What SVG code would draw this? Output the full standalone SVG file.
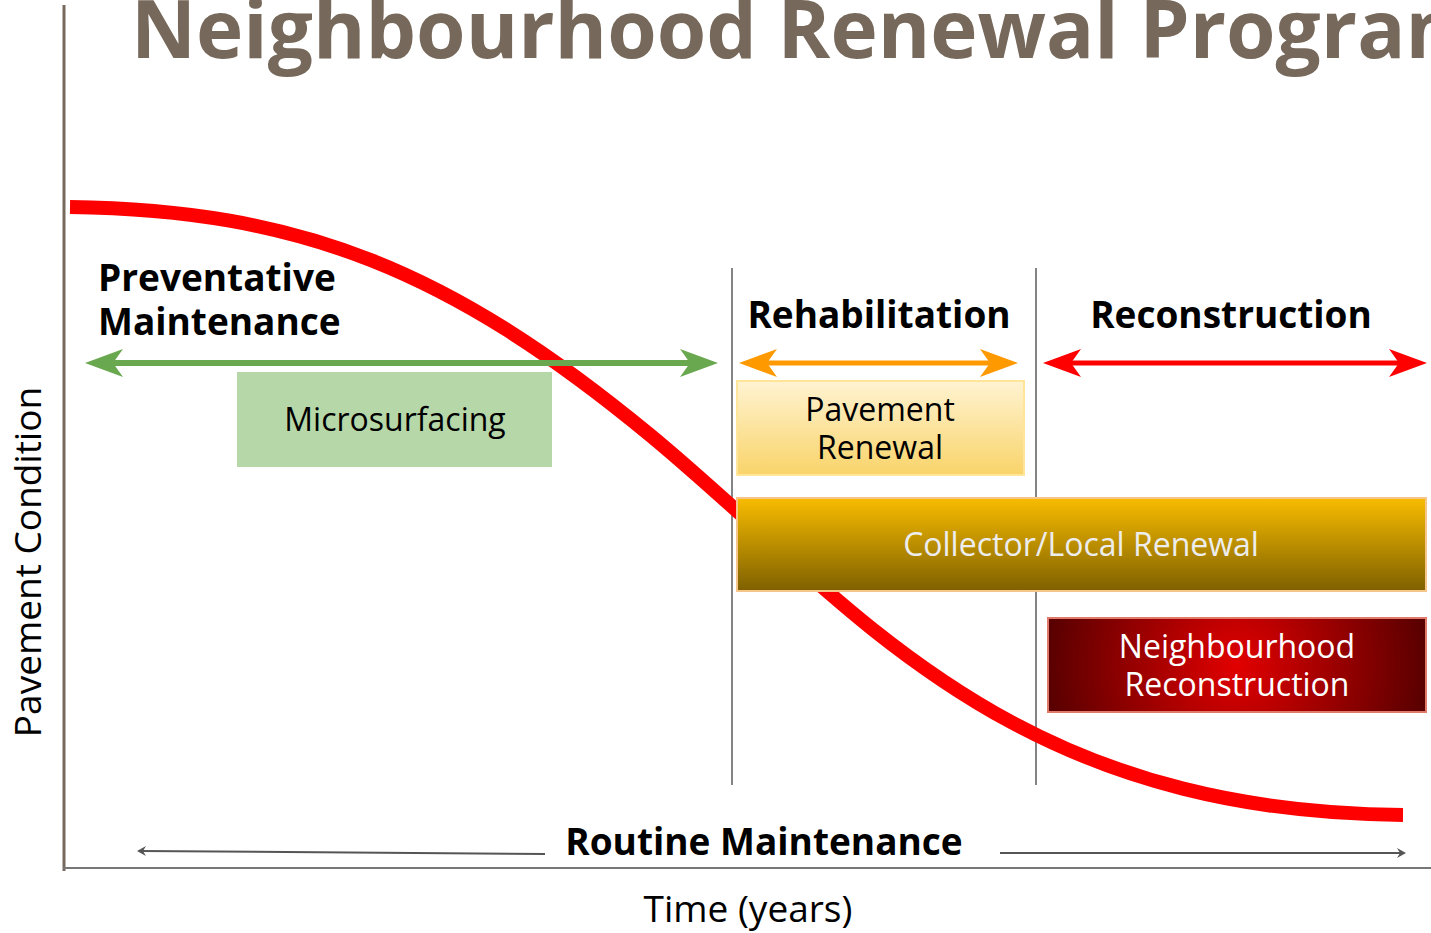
<svg xmlns="http://www.w3.org/2000/svg" width="1431" height="933" viewBox="0 0 1431 933">
<style>
text{font-family:"Open Sans","DejaVu Sans",sans-serif}
.b{font-weight:700;fill:#000}
.r{font-weight:400}
.div{stroke:#666;stroke-width:1.6}
</style>
<defs>
<marker id="hG" viewBox="-40 -15 42 30" refX="-28" refY="0" markerWidth="42" markerHeight="30" markerUnits="userSpaceOnUse" orient="auto-start-reverse"><path d="M0,0 L-38,-14 L-28,0 L-38,14 Z" fill="#6AA84F"/></marker>
<marker id="hO" viewBox="-40 -15 42 30" refX="-28" refY="0" markerWidth="42" markerHeight="30" markerUnits="userSpaceOnUse" orient="auto-start-reverse"><path d="M0,0 L-38,-14 L-28,0 L-38,14 Z" fill="#FF9900"/></marker>
<marker id="hR" viewBox="-40 -15 42 30" refX="-28" refY="0" markerWidth="42" markerHeight="30" markerUnits="userSpaceOnUse" orient="auto-start-reverse"><path d="M0,0 L-38,-14 L-28,0 L-38,14 Z" fill="#FF0000"/></marker>
<marker id="hS" viewBox="-10 -6 12 12" refX="-3" refY="0" markerWidth="12" markerHeight="12" markerUnits="userSpaceOnUse" orient="auto"><path d="M0,0 L-9,-5 L-6,0 L-9,5 Z" fill="#555"/></marker>
<linearGradient id="gPav" x1="0" y1="0" x2="0" y2="1"><stop offset="0" stop-color="#FFF3D1"/><stop offset="1" stop-color="#F9D46A"/></linearGradient>
<linearGradient id="gCol" x1="0" y1="0" x2="0" y2="1"><stop offset="0" stop-color="#F8BC00"/><stop offset="1" stop-color="#7E6000"/></linearGradient>
<radialGradient id="gNb" cx="0.5" cy="0.5" r="0.5" gradientTransform="translate(0.5 0.5) scale(1 4) translate(-0.5 -0.5)"><stop offset="0" stop-color="#E20000"/><stop offset="1" stop-color="#5A0000"/></radialGradient>
</defs>

<text x="131" y="58" class="b" style="font-size:80px;fill:#76685A">Neighbourhood Renewal Program</text>

<g id="axes">
<line x1="64" y1="5" x2="64" y2="871" stroke="#756A5C" stroke-width="3"/>
<line x1="63" y1="868" x2="1431" y2="868" stroke="#777" stroke-width="2"/>
</g>

<g id="dividers">
<line class="div" x1="732" y1="268" x2="732" y2="785"/>
<line class="div" x1="1036" y1="268" x2="1036" y2="785"/>
</g>

<path id="curve" d="M70,207 C300,210 450,270 650,435 C850,600 1000,812 1403,815" fill="none" stroke="#FF0000" stroke-width="14"/>

<g id="connectors">
<line x1="113" y1="363" x2="690" y2="363" stroke="#6AA84F" stroke-width="6" marker-start="url(#hG)" marker-end="url(#hG)"/>
<line x1="767" y1="363" x2="990" y2="363" stroke="#FF9900" stroke-width="5" marker-start="url(#hO)" marker-end="url(#hO)"/>
<line x1="1071" y1="363" x2="1399" y2="363" stroke="#FF0000" stroke-width="5" marker-start="url(#hR)" marker-end="url(#hR)"/>
<line x1="545" y1="854" x2="140" y2="851" stroke="#555" stroke-width="2" marker-end="url(#hS)"/>
<line x1="1000" y1="853" x2="1403" y2="853" stroke="#555" stroke-width="2" marker-end="url(#hS)"/>
</g>

<g id="label-preventative">
<text class="b" x="98" y="291" style="font-size:37px">Preventative</text>
<text class="b" x="98" y="335" style="font-size:37px">Maintenance</text>
</g>
<g id="label-rehab"><text class="b" x="879" y="328" text-anchor="middle" style="font-size:37px">Rehabilitation</text></g>
<g id="label-recon"><text class="b" x="1231" y="328" text-anchor="middle" style="font-size:37px">Reconstruction</text></g>

<g id="microsurfacing">
<rect x="237" y="372" width="315" height="95" fill="#B6D7A8"/>
<text class="r" x="395" y="431" text-anchor="middle" style="font-size:32px;fill:#000">Microsurfacing</text>
</g>

<g id="pavement-renewal">
<rect x="737" y="381" width="287" height="94" fill="url(#gPav)" stroke="#FFE599" stroke-width="2"/>
<text class="r" x="880" y="421" text-anchor="middle" style="font-size:32px;fill:#000">Pavement</text>
<text class="r" x="880" y="459" text-anchor="middle" style="font-size:32px;fill:#000">Renewal</text>
</g>

<g id="collector-local">
<rect x="737" y="498" width="689" height="93" fill="url(#gCol)" stroke="#F5C58A" stroke-width="2"/>
<text class="r" x="1081" y="556" text-anchor="middle" style="font-size:32px;fill:#EDEDED">Collector/Local Renewal</text>
</g>

<g id="neighbourhood-reconstruction">
<rect x="1048" y="618" width="378" height="94" fill="url(#gNb)" stroke="#E07A6A" stroke-width="2"/>
<text class="r" x="1237" y="658" text-anchor="middle" style="font-size:32px;fill:#fff">Neighbourhood</text>
<text class="r" x="1237" y="696" text-anchor="middle" style="font-size:32px;fill:#fff">Reconstruction</text>
</g>

<g id="label-routine"><text class="b" x="764" y="855" text-anchor="middle" style="font-size:37px">Routine Maintenance</text></g>
<g id="label-time"><text class="r" x="748" y="922" text-anchor="middle" style="font-size:37px;fill:#000">Time (years)</text></g>
<g id="label-condition"><text class="r" transform="translate(41 562) rotate(-90)" text-anchor="middle" style="font-size:37px;fill:#000">Pavement Condition</text></g>
</svg>
